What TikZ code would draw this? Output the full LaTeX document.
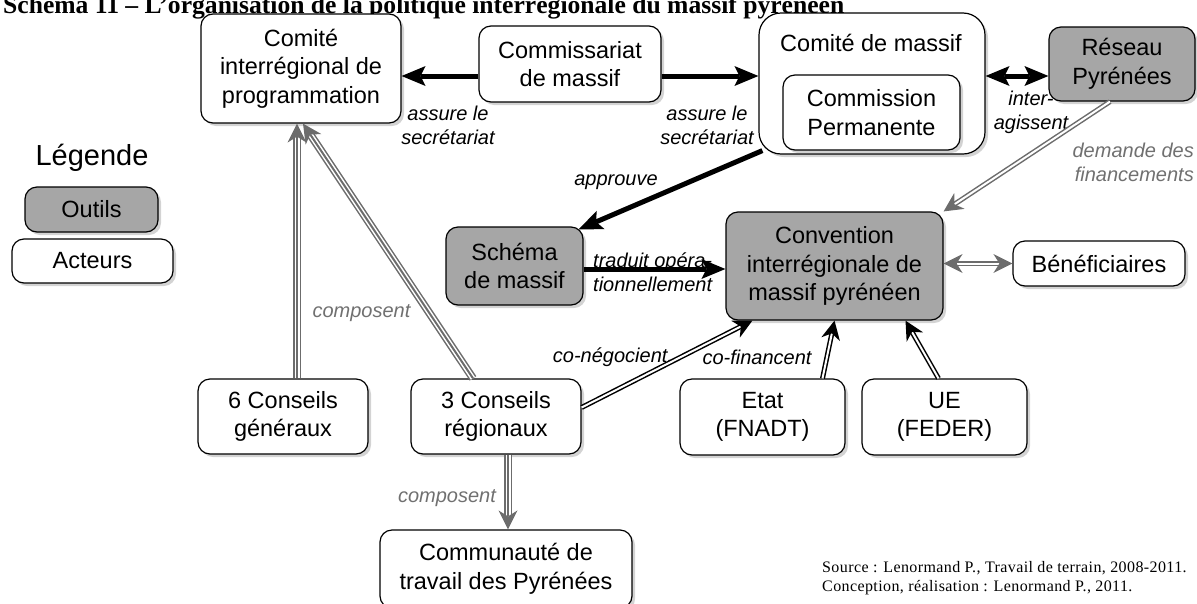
\documentclass[tikz,border=0pt]{standalone}
\usepackage{fontspec}
\setmainfont{Liberation Sans}
\newfontfamily\timesfont{Liberation Serif}
\usetikzlibrary{arrows.meta,shadows}
\definecolor{boxgray}{RGB}{166,166,166}
\definecolor{linegray}{RGB}{108,108,108}
\definecolor{labgray}{RGB}{112,112,112}
\newcommand\bxfont{\fontsize{23.5}{28.5}\selectfont}
\newcommand\lbfont{\fontsize{20}{24}\selectfont\itshape}
\newcommand\ttlfont{\timesfont\bfseries\fontsize{25.6}{30}\selectfont}
\newcommand\srcfont{\timesfont\addfontfeature{LetterSpace=2.5}\fontsize{16}{19}\selectfont}
\begin{document}
\begin{tikzpicture}[x=1pt,y=-1pt,
  box/.style={draw=black, line width=1.2pt, rounded corners=12pt, fill=white, align=center, inner sep=0pt, font=\bxfont,
    drop shadow={shadow xshift=3pt, shadow yshift=-3pt, opacity=0.35}},
  tool/.style={box, fill=boxgray},
  lab/.style={font=\lbfont, align=center, inner sep=0pt},
  glab/.style={lab, text=labgray},
  blk/.style={draw=black, line width=5pt, -{Stealth[length=24pt,width=20pt,inset=5pt,line width=0pt]}},
  blktwo/.style={draw=black, line width=5pt, {Stealth[length=24pt,width=20pt,inset=5pt,line width=0pt]}-{Stealth[length=24pt,width=20pt,inset=5pt,line width=0pt]}},
  dbl/.style={draw=white, line width=2pt, -{Stealth[length=19pt,width=19pt,inset=6pt,line width=0pt,color=#1,fill=#1]},
    preaction={draw=#1, line width=5pt, -, shorten >=13pt}},
  dbltwo/.style={draw=white, line width=2pt, {Stealth[length=19pt,width=19pt,inset=6pt,line width=0pt,color=#1,fill=#1]}-{Stealth[length=19pt,width=19pt,inset=6pt,line width=0pt,color=#1,fill=#1]},
    preaction={draw=#1, line width=5pt, -, shorten >=13pt, shorten <=13pt}},
  trip/.style={draw=linegray, line width=2pt, -{Stealth[length=19pt,width=19pt,inset=6pt,line width=0pt,color=linegray,fill=linegray]},
    preaction={draw=linegray, line width=8pt, -, shorten >=13pt},
    preaction={draw=white, line width=5pt, -, shorten >=13pt}},
]
\useasboundingbox (0,0) rectangle (1197,603);
\clip (0,0) rectangle (1197,603);

\node[anchor=base west, font=\ttlfont, inner sep=0pt] (title) at (3,13) {Schéma 11 – L’organisation de la politique interrégionale du massif pyrénéen};

% legend
\node[font=\fontsize{29}{34}\selectfont, inner sep=0pt] (leg) at (92,158) {Légende};
\node[tool, minimum width=133pt, minimum height=45pt] (outils) at (91.5,209.5) {Outils};
\node[box, minimum width=161pt, minimum height=44pt] (acteurs) at (92.5,261) {Acteurs};

% nodes
\node[box, minimum width=200pt, minimum height=109pt] (cip) at (301,68.5) {Comité\\interrégional de\\programmation};
\node[box, minimum width=182pt, minimum height=76pt] (com) at (570,64) {Commissariat\\de massif};
\node[box, rounded corners=22pt, minimum width=226pt, minimum height=141pt] (cdm) at (872,83.5) {};
\node[font=\bxfont, inner sep=0pt] (cdmt) at (871,43) {Comité de massif};
\node[box, minimum width=177pt, minimum height=75pt] (cp) at (871.5,112.5) {Commission\\Permanente};
\node[tool, minimum width=146pt, minimum height=74pt] (rp) at (1122,64) {Réseau\\Pyrénées};
\node[tool, minimum width=137pt, minimum height=78pt] (sch) at (514.5,266) {Schéma\\de massif};
\node[tool, minimum width=217pt, minimum height=108pt] (conv) at (834.5,266) {Convention\\interrégionale de\\massif pyrénéen};
\node[box, minimum width=172pt, minimum height=45pt] (ben) at (1099,263.5) {Bénéficiaires};
\node[box, minimum width=165pt, minimum height=76pt] (etat) at (762.5,417) {Etat\\(FNADT)};
\node[box, minimum width=165pt, minimum height=76pt] (ue) at (944.5,417) {UE\\(FEDER)};
\node[box, minimum width=170pt, minimum height=75pt] (g6) at (283,416.5) {6 Conseils\\généraux};
\node[box, minimum width=170pt, minimum height=75pt] (r3) at (496,416.5) {3 Conseils\\régionaux};
\node[box, minimum width=252pt, minimum height=78pt] (ctp) at (506,569) {Communauté de\\travail des Pyrénées};

% labels
\node[lab] (l1) at (448,125) {assure le\\secrétariat};
\node[lab] (l2) at (707,125) {assure le\\secrétariat};
\node[lab] (l3) at (616,182) {approuve};
\node[lab] (l4) at (1031,112) {inter-\\agissent};
\node[glab, align=right, anchor=east] (l5) at (1194,162.5) {demande des\\financements};
\node[lab, align=left, anchor=west] (l6) at (593,272) {traduit opéra-\\tionnellement};
\node[lab] (l7) at (613,357) {co-négocient,};
\node[lab] (l8) at (757,357) {co-financent};
\node[glab] (l9) at (361.5,313) {composent};
\node[glab] (l10) at (447,498) {composent};

% source
\node[anchor=base west, font=\srcfont, inner sep=0pt] (src1) at (822,572) {Source : Lenormand P., Travail de terrain, 2008-2011.};
\node[anchor=base west, font=\srcfont, inner sep=0pt] (src2) at (822,591) {Conception, réalisation : Lenormand P., 2011.};

% connectors
\draw[blk] ([yshift=-12pt]com.west) -- ([yshift=-12pt]com.west -| cip.east);
\draw[blk] ([yshift=-12pt]com.east) -- ([yshift=-12pt]com.east -| cdm.west);
\draw[blktwo] ([yshift=-12pt]cdm.east |- rp.west) -- ([yshift=-12pt]rp.west);
\draw[blk] ([xshift=4pt,yshift=4pt]cdm.south west) -- ([xshift=-5pt,yshift=-3pt]sch.north east);
\draw[blk] ([yshift=-3pt]sch.east) -- ([yshift=-3pt]sch.east -| conv.west);
\draw[dbl=linegray] ([xshift=-12pt]rp.south) -- (conv.north east);
\draw[dbltwo=linegray] ([yshift=2.5pt]conv.east) -- ([yshift=2.5pt]conv.east -| ben.west);
\draw[dbl=black] ([yshift=9pt]r3.east) -- ([xshift=27pt]conv.south west);
\draw[dbl=black] ([xshift=60pt]etat.north) -- ([xshift=72pt]etat.north |- conv.south);
\draw[dbl=black] ([xshift=-6pt]ue.north) -- ([xshift=-39pt]ue.north |- conv.south);
\draw[trip] ([xshift=14pt]g6.north) -- ([xshift=14pt]g6.north |- cip.south);
\draw[trip] ([xshift=-23pt]r3.north) -- ([xshift=2pt]cip.south);
\draw[trip] ([xshift=12pt]r3.south) -- ([xshift=12pt]r3.south |- ctp.north);
\end{tikzpicture}
\end{document}
